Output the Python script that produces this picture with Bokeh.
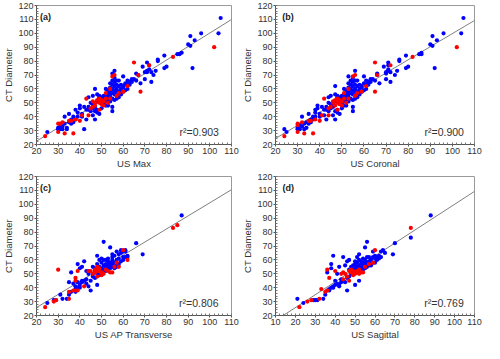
from bokeh.plotting import figure
from bokeh.layouts import column, row
from bokeh.models import Range1d, SingleIntervalTicker, Label
from bokeh.embed import file_html
from bokeh.resources import INLINE

# ---------------- data (US measurement, CT diameter) ----------------
a_blue = [(105,111),(104,100),(96,100),(91,98),(93,95),(90,92),(91,91),(87,86),(86,85),(85,85),
          (92,75),(80,76),(79,75),(79,84),(76,81),(76,80),(75,73),(74,70),(71,79),(72,77),
          (72,74),(71,73),(71,72),(70,67),(73,72),(73,65),(69,76),(70,72),(66,71),(68,64),
          (66,66),(67,70),(65,67),(64,67),(63,65),(62,66),(62,64),(61,64),(60,69),(60,61),
          (61,63),(63,63),(62,60),(64,65),(60,62),(59,63),(58,66),(59,60),(58,62),(57,63),
          (57,60),(58,58),(59,56),(60,58),(61,59),(56,73),(55,71),(56,68),(55,66),(56,65),
          (57,66),(54,64),(55,63),(56,62),(54,61),(55,60),(56,59),(57,58),(54,58),(53,59),
          (52,60),(53,57),(54,56),(55,57),(56,56),(57,55),(53,55),(52,56),(51,55),(50,54),
          (52,54),(54,54),(55,53),(56,52),(51,53),(50,52),(53,52),(49,55),(48,56),(52,51),
          (54,51),(55,47),(55,44),(52,48),(51,49),(53,48),(50,50),(49,54),(57,53),(58,54),
          (58,57),(59,58),(47,60),(46,55),(44,54),(45,50),(46,49),(47,50),(48,51),(47,47),
          (46,46),(44,45),(45,44),(43,45),(44,47),(42,47),(41,42),(40,48),(40,46),(39,43),
          (38,45),(39,40),(38,38),(37,36),(36,35),(41,40),(43,38),(42,31),(47,38),(46,41),
          (48,43),(49,42),(50,46),(48,45),(47,44),(25,29),(30,31),(30,32),(31,34),(32,33),
          (31,31),(33,40),(34,31),(34,32),(35,42),(33,35),(35,36),(36,38),(37,40),(32,31)]
a_red = [(102,90),(83,83),(65,79),(72,77),(68,58),(56,70),(55,69),(62,62),(60,58),(67,70),
         (58,57),(57,55),(54,53),(53,50),(52,53),(51,51),(50,52),(50,49),(49,50),
         (49,53),(48,52),(47,50),(46,51),(46,47),(45,46),(49,45),(51,48),
         (44,41),(43,53),(41,41),(40,37),(38,38),(37,28),(36,37),(35,37),(33,28),(32,36),
         (31,35),(30,35),(30,29),(24,26),(52,57),(47,48),(54,60)]

b_blue = [(105,111),(104,100),(96,100),(91,98),(93,95),(90,92),(91,91),(86,86),(86,85),(85,85),
          (92,75),(80,76),(79,75),(79,84),(76,81),(76,80),(75,73),(74,70),(71,79),(71,77),
          (71,74),(71,73),(70,72),(70,67),(72,72),(72,65),(69,76),(70,71),(66,71),(67,64),
          (65,66),(66,70),(64,67),(63,67),(62,65),(61,66),(62,64),(60,64),(60,69),(59,61),
          (61,63),(62,63),(61,60),(63,65),(59,62),(58,63),(57,66),(58,60),(57,62),(56,63),
          (56,60),(57,58),(58,56),(59,58),(60,59),(56,73),(53,69),(55,68),(54,66),(55,65),
          (56,66),(53,64),(54,63),(55,62),(53,61),(54,60),(55,59),(56,58),(53,58),(52,59),
          (51,60),(52,57),(53,56),(54,57),(55,56),(56,55),(52,55),(51,56),(50,55),(49,54),
          (51,54),(53,54),(54,53),(55,52),(50,53),(49,52),(52,52),(48,55),(47,56),(51,51),
          (53,51),(55,47),(55,44),(51,48),(50,49),(52,48),(49,50),(48,54),(56,53),(57,54),
          (57,57),(58,58),(47,62),(45,55),(44,54),(44,50),(45,49),(46,50),(47,51),(46,47),
          (45,46),(43,45),(44,44),(42,45),(43,47),(41,47),(40,42),(39,48),(39,46),(38,43),
          (38,45),(38,40),(37,38),(36,36),(35,35),(40,40),(43,38),(42,41),(47,38),(46,41),
          (48,43),(49,42),(50,46),(48,45),(47,44),(24,31),(25,29),(30,32),(31,34),(32,33),
          (30,31),(32,40),(33,31),(34,32),(35,42),(33,35),(34,36),(36,38),(37,40),(31,31)]
b_red = [(102,90),(82,83),(65,79),(72,77),(65,58),(56,70),(55,69),(61,62),(59,58),(66,70),
         (57,57),(56,55),(53,53),(52,50),(51,53),(50,51),(49,52),(49,49),(48,50),
         (48,53),(47,52),(46,50),(46,51),(45,47),(44,46),(48,45),(50,48),
         (44,41),(42,53),(41,41),(40,37),(38,38),(37,28),(36,37),(35,37),(33,28),(32,36),
         (30,35),(30,34),(30,29),(24,26),(51,57),(47,48),(53,60)]

c_blue = [(87,92),(69,64),(66,72),(62,62),(62,63),(61,66),(61,67),(60,66),(60,62),(59,67),
          (59,65),(58,64),(58,61),(57,60),(57,66),(56,63),(56,58),(55,64),(55,62),(55,60),
          (55,57),(54,69),(54,58),(54,56),(53,61),(53,59),(53,55),(52,60),(52,57),(52,55),
          (51,73),(51,60),(51,56),(51,53),(50,61),(50,58),(50,54),(50,52),(49,60),(49,55),
          (49,53),(48,63),(48,57),(48,50),(48,42),(47,54),(47,52),(46,55),(46,50),(46,48),
          (45,45),(45,38),(44,52),(44,50),(44,41),(43,52),(43,46),(42,59),(42,45),(41,55),
          (41,45),(40,54),(40,42),(39,57),(39,44),(39,40),(38,41),(38,39),(37,43),(36,51),
          (35,44),(36,37),(35,35),(34,32),(32,32),(31,35),(29,31),(28,31),(25,29),(56,55),
          (57,57),(58,57),(59,59),(60,60),(61,62),(54,54),(53,57),(52,52),(56,54),(57,55),
          (55,55),(53,53),(49,49),(47,47),(43,43),(41,44),(40,40),(38,37)]
c_red = [(85,85),(83,83),(62,60),(60,67),(58,55),(57,58),(56,55),(55,51),(54,51),(53,52),
         (52,53),(51,50),(50,51),(50,49),(49,52),(48,55),(48,52),(47,53),(47,51),(46,50),
         (45,52),(44,52),(42,41),(39,52),(39,38),(38,47),(38,45),(38,38),(37,38),(35,37),
         (35,32),(30,53),(29,31),(28,30),(24,26),(48,48),(49,54)]

d_blue = [(88,92),(78,76),(70,72),(69,64),(64,67),(65,65),(63,66),(62,63),(61,62),(60,61),
          (60,63),(59,66),(59,62),(58,60),(58,58),(57,62),(57,59),(56,73),(56,62),(56,58),
          (55,69),(55,60),(55,56),(54,61),(54,58),(54,57),(53,59),(53,55),(53,52),(52,64),
          (52,60),(52,56),(52,45),(51,62),(51,58),(51,55),(51,53),(50,59),(50,57),(50,54),
          (50,42),(49,56),(49,53),(49,50),(48,55),(48,52),(47,60),(47,53),(46,59),(46,38),
          (45,56),(45,44),(44,62),(44,45),(43,46),(42,55),(42,42),(41,50),(41,43),(40,45),
          (40,42),(39,63),(39,41),(38,57),(38,54),(38,40),(37,39),(36,51),(36,38),(35,35),
          (34,32),(31,31),(30,31),(29,31),(24,29),(21,32),(57,56),(56,55),(55,54),(54,53),
          (53,54),(52,53),(51,51),(58,56),(59,58),(60,58),(61,60),(62,61),(63,62),(48,50),
          (47,48),(46,47),(43,44),(42,41),(39,40),(37,38),(55,58),(54,55),(53,57)]
d_red = [(78,83),(60,67),(59,58),(55,55),(54,51),(53,51),(52,53),(51,52),(50,51),(50,50),
         (49,52),(48,53),(48,51),(47,52),(47,45),(46,48),(45,50),(44,51),(43,50),(40,52),
         (37,47),(36,53),(35,37),(36,38),(33,39),(32,32),(28,31),(26,30),(22,26),(57,57),
         (52,50),(49,49),(44,46)]

panel_tags = ["(a)", "(b)", "(c)", "(d)"]
x_titles = ["US Max", "US Coronal", "US AP Transverse", "US Sagittal"]
y_title = "CT Diameter"
r2_texts = ["r\u00b2=0.903", "r\u00b2=0.900", "r\u00b2=0.806", "r\u00b2=0.769"]
fit_slope = [0.973, 0.943, 0.942, 0.929]
fit_intercept = [2.9, 5.5, 6.9, 7.1]
x_limits = [(20, 110), (20, 110), (20, 110), (10, 110)]
y_limits = (20, 120)
tag_pos = [(21.6, 115.6), (23.0, 115.6), (21.6, 115.6), (13.5, 115.6)]
r2_pos = [(86.0, 25.0), (87.4, 25.0), (85.8, 25.0), (84.8, 25.0)]

FONT = "Liberation Sans"


def make_panel(i, blue, red, width, height, bl, br, bt, bb):
    x0, x1 = x_limits[i]
    p = figure(width=width, height=height, output_backend="svg", toolbar_location=None,
               x_range=Range1d(x0, x1), y_range=Range1d(*y_limits),
               min_border_left=bl, min_border_right=br, min_border_top=bt, min_border_bottom=bb)
    p.grid.visible = False
    p.outline_line_color = "#9a9a9a"
    p.outline_line_width = 1
    p.background_fill_color = "white"
    p.border_fill_color = "white"
    for ax, title in ((p.xaxis[0], x_titles[i]), (p.yaxis[0], y_title)):
        ax.ticker = SingleIntervalTicker(interval=10, num_minor_ticks=5)
        ax.axis_label = title
        ax.axis_label_text_font = FONT
        ax.axis_label_text_font_size = "9.5px"
        ax.axis_label_text_font_style = "normal"
        ax.axis_label_text_color = "#333333"
        ax.axis_label_standoff = 1
        ax.major_label_text_font = FONT
        ax.major_label_text_font_size = "9px"
        ax.major_label_text_color = "#333333"
        ax.major_label_standoff = 1
        ax.axis_line_color = "#555555"
        ax.major_tick_line_color = "#555555"
        ax.minor_tick_line_color = "#777777"
        ax.major_tick_in = 0
        ax.major_tick_out = 2
        ax.minor_tick_in = 2
        ax.minor_tick_out = 0
    # regression line
    xs_line = [x0, x1]
    ys_line = [fit_slope[i] * v + fit_intercept[i] for v in xs_line]
    p.line(xs_line, ys_line, line_color="#7f7f7f", line_width=1)
    p.scatter([q[0] for q in blue], [q[1] for q in blue], size=4.2,
              fill_color="#0000ff", line_color=None)
    p.scatter([q[0] for q in red], [q[1] for q in red], size=4.2,
              fill_color="#ff0000", line_color=None)
    p.add_layout(Label(x=tag_pos[i][0], y=tag_pos[i][1], text=panel_tags[i],
                       text_font=FONT, text_font_size="9px", text_font_style="bold",
                       text_baseline="top", text_color="#222222"))
    p.add_layout(Label(x=r2_pos[i][0], y=r2_pos[i][1], text=r2_texts[i],
                       text_font=FONT, text_font_size="10.5px",
                       text_baseline="bottom", text_color="#333333"))
    return p


pa = make_panel(0, a_blue, a_red, 239, 171, 31, 8, 5, 27)
pb = make_panel(1, b_blue, b_red, 243, 171, 35, 8, 5, 27)
pc = make_panel(2, c_blue, c_red, 239, 171, 31, 8, 5, 27)
pd = make_panel(3, d_blue, d_red, 243, 171, 35, 8, 5, 27)

layout = column(row(pa, pb), row(pc, pd))

open("out.html", "w").write(file_html(layout, INLINE))
